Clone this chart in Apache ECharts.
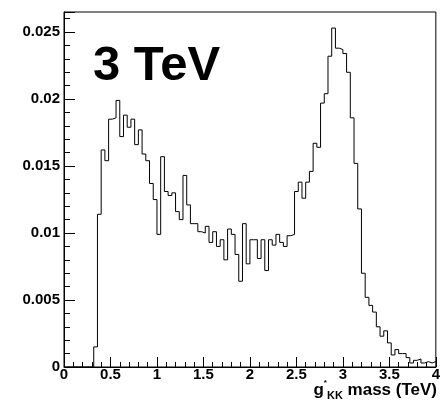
<!DOCTYPE html>
<html>
<head>
<meta charset="utf-8">
<title>g_KK mass 3 TeV</title>
<script src="https://cdn.jsdelivr.net/npm/echarts@6/dist/echarts.min.js"></script>
<style>body{margin:0;background:#fff}</style>
</head>
<body>
<div id="main" style="width:443px;height:406px;"></div>
<script type="text/javascript">
    // histogram, 100 bins of 0.04 TeV from 0 to 4
    var binWidth = 0.04;
    var binValues = [
        0, 0, 0, 0, 0, 0, 0, 0, 0.0015, 0.0114,
        0.0162, 0.0154, 0.0185, 0.0186, 0.0199, 0.0172, 0.0188, 0.0179, 0.0185, 0.0166,
        0.0177, 0.0159, 0.0154, 0.0137, 0.0125, 0.0099, 0.0157, 0.0131, 0.0128, 0.0130,
        0.0116, 0.0110, 0.0143, 0.0121, 0.0107, 0.0107, 0.0101, 0.0100, 0.0105, 0.0093,
        0.0101, 0.0090, 0.0095, 0.0080, 0.0103, 0.0099, 0.0084, 0.0064, 0.0107, 0.0077,
        0.0095, 0.0095, 0.0081, 0.0095, 0.0072, 0.0095, 0.0091, 0.0099, 0.0093, 0.0090,
        0.0098, 0.0099, 0.0131, 0.0138, 0.0126, 0.0138, 0.0146, 0.0167, 0.0164, 0.0197,
        0.0204, 0.0232, 0.0253, 0.0238, 0.0237, 0.0234, 0.0220, 0.0186, 0.0152, 0.0118,
        0.0070, 0.0052, 0.0046, 0.0041, 0.0030, 0.0023, 0.0027, 0.0018, 0.0009, 0.0013,
        0.0010, 0.0010, 0.0007, 0.0003, 0.0005, 0.0006, 0.0003, 0.0004, 0.0003, 0.0004
    ];
    var xRange = [0, 4, 0.5];        // min, max, step of x ticks
    var yRange = [0, 0.0265, 0.005]; // min, max, step of y ticks
    var titleText = '3 TeV';

    // bin left edges + closing point at the right end
    var points = [];
    for (var i = 0; i < binValues.length; i++) {
        points.push([+(i * binWidth).toFixed(2), binValues[i]]);
    }
    points.push([xRange[1], binValues[binValues.length - 1]]);

    var font = '"Liberation Sans", Arial, Helvetica, sans-serif';
    var labelStyle = {color: '#000', fontWeight: 'bold', fontSize: 15, fontFamily: font};

    var chart = echarts.init(document.getElementById('main'));
    chart.setOption({
        animation: false,
        grid: {left: 64, right: 7, top: 12, bottom: 39, show: true,
               borderColor: '#000', borderWidth: 1, backgroundColor: 'transparent'},
        title: [{
            text: titleText, left: 88, top: 37,
            textStyle: {fontSize: 49, fontWeight: 'bold', color: '#000', fontFamily: font}
        }, {
            text: '{g|g}{s|*}{k|KK}{m| mass (TeV)}',
            right: 6, top: 379, padding: 0,
            textStyle: {
                rich: {
                    g: {fontSize: 17, fontWeight: 'bold', color: '#000', fontFamily: font},
                    s: {fontSize: 8, fontWeight: 'bold', color: '#000', fontFamily: font, padding: [0, 0, 14, 0]},
                    k: {fontSize: 11, fontWeight: 'bold', color: '#000', fontFamily: font, padding: [11, 0, 0, 0]},
                    m: {fontSize: 17, fontWeight: 'bold', color: '#000', fontFamily: font}
                }
            }
        }],
        xAxis: {
            type: 'value', min: xRange[0], max: xRange[1], interval: xRange[2],
            axisLine: {lineStyle: {color: '#000', width: 1}},
            axisTick: {inside: true, length: 10, lineStyle: {color: '#000'}},
            minorTick: {show: true, splitNumber: 5, length: 5, lineStyle: {color: '#000'}},
            splitLine: {show: false},
            axisLabel: Object.assign({margin: 0}, labelStyle)
        },
        yAxis: {
            type: 'value', min: yRange[0], max: yRange[1], interval: yRange[2],
            axisLine: {show: true, lineStyle: {color: '#000', width: 1}},
            axisTick: {inside: true, length: 11, lineStyle: {color: '#000'}},
            minorTick: {show: true, splitNumber: 5, length: 6, lineStyle: {color: '#000'}},
            splitLine: {show: false},
            axisLabel: Object.assign({margin: 4, showMaxLabel: false}, labelStyle)
        },
        series: [{
            type: 'line',
            step: 'end',
            data: points,
            showSymbol: false,
            lineStyle: {color: '#000', width: 1}
        }]
    });
</script>
</body>
</html>
